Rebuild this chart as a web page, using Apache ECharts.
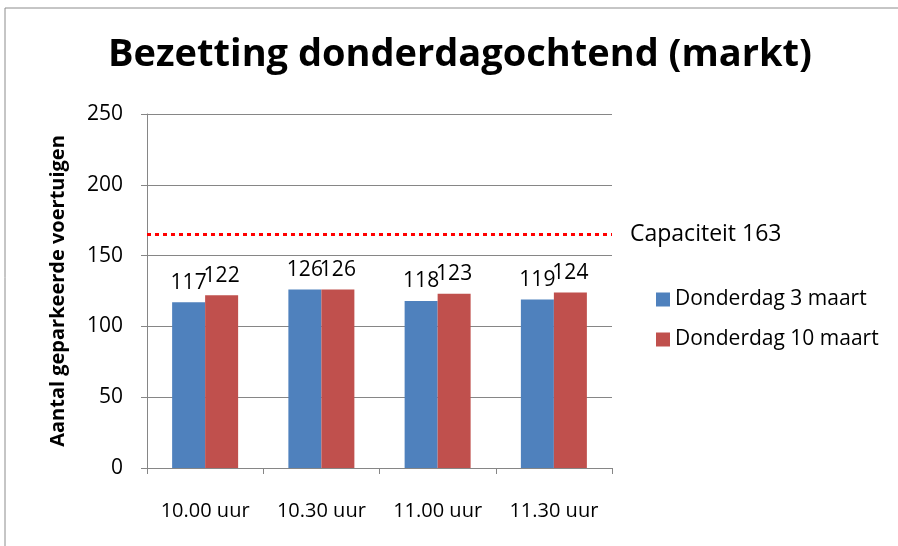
<!DOCTYPE html>
<html>
<head>
<meta charset="utf-8">
<script src="https://cdn.jsdelivr.net/npm/echarts@6/dist/echarts.min.js"></script>
<style>
  html, body { margin: 0; padding: 0; background: #fff; }
  #chart { width: 898px; height: 546px; }
</style>
</head>
<body>
<div id="chart"></div>
<script>
const categories = ['10.00 uur', '10.30 uur', '11.00 uur', '11.30 uur']
const seriesNames = ['Donderdag 3 maart', 'Donderdag 10 maart']
const maart3 = [117, 126, 118, 119]
const maart10 = [122, 126, 123, 124]
const capaciteitLijn = 165
const capaciteitLabel = 'Capaciteit 163'

const font = '"Open Sans", sans-serif'
const chart = echarts.init(document.getElementById('chart'))

const labelStyle = {
  show: true,
  position: 'top',
  distance: 9,
  color: '#000',
  fontSize: 21,
  fontFamily: font
}

chart.setOption({
  animation: false,
  title: {
    text: 'Bezetting donderdagochtend (markt)',
    left: 455,
    top: 31,
    textAlign: 'center',
    textStyle: { fontSize: 38, fontWeight: 'bold', color: '#000', fontFamily: font }
  },
  legend: {
    data: seriesNames,
    orient: 'vertical',
    left: 651,
    top: 284,
    itemWidth: 14,
    itemHeight: 14,
    itemGap: 19,
    icon: 'rect',
    textStyle: { fontSize: 21, color: '#000', fontFamily: font }
  },
  graphic: [{
    type: 'rect',
    shape: { x: 5, y: 8, width: 900, height: 600 },
    style: { fill: 'none', stroke: '#8c8c8c', lineWidth: 1 }
  }],
  grid: { left: 147, right: 286, top: 114, bottom: 78 },
  xAxis: {
    type: 'category',
    data: categories,
    axisLine: { lineStyle: { color: '#868686' } },
    axisTick: { show: true, length: 6, lineStyle: { color: '#868686' } },
    axisLabel: { color: '#000', fontSize: 20, margin: 33, interval: 0, fontFamily: font }
  },
  yAxis: {
    type: 'value',
    min: 0,
    max: 250,
    interval: 50,
    name: 'Aantal geparkeerde voertuigen',
    nameLocation: 'middle',
    nameGap: 79,
    nameTextStyle: { fontSize: 20, fontWeight: 'bold', color: '#000', fontFamily: font },
    axisLine: { show: true, lineStyle: { color: '#868686' } },
    axisTick: { show: true, length: 6, lineStyle: { color: '#868686' } },
    splitLine: { lineStyle: { color: '#868686' } },
    axisLabel: { color: '#000', fontSize: 21, margin: 24, fontFamily: font }
  },
  series: [
    {
      name: seriesNames[0],
      type: 'bar',
      data: maart3,
      barWidth: 33,
      barGap: '0%',
      itemStyle: { color: '#4F81BD' },
      label: labelStyle,
      markLine: {
        symbol: 'none',
        silent: true,
        lineStyle: { color: '#ff0000', type: [4, 4], width: 3 },
        label: {
          position: 'end',
          distance: 18,
          formatter: capaciteitLabel,
          color: '#000',
          fontSize: 23,
          fontFamily: font
        },
        data: [{ yAxis: capaciteitLijn }]
      }
    },
    {
      name: seriesNames[1],
      type: 'bar',
      data: maart10,
      barWidth: 33,
      itemStyle: { color: '#C0504D' },
      label: labelStyle
    }
  ]
})
window.addEventListener('resize', () => chart.resize())
</script>
</body>
</html>
